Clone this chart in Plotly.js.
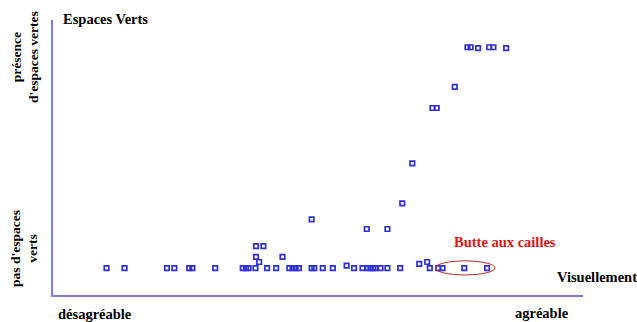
<!DOCTYPE html>
<html>
<head>
<meta charset="utf-8">
<script src="https://cdn.plot.ly/plotly-3.0.1.min.js"></script>
<style>html,body{margin:0;padding:0;background:#fff;}#chart{width:637px;height:322px;}</style>
</head>
<body>
<div id="chart"></div>
<script>
// Scores (x: désagréable 0 -> agréable 100, y: pas d'espaces verts 0 -> présence 100)
const xScore = [10.1, 13.5, 21.5, 22.9, 25.7, 26.3, 30.6, 35.8, 36.4, 36.9, 38.2, 40.4, 42.1, 44.6, 45.2, 45.8, 46.4,
  48.8, 49.3, 50.9, 52.8, 56.8, 58.4, 59.4, 59.9, 60.4, 60.8, 61.8, 63.1, 65.5, 71.1, 72.7, 73.5, 77.6, 81.9,
  55.4, 69.1, 70.6, 38.9, 38.3, 43.3, 38.3, 39.7, 48.8, 59.2, 63.1, 65.9, 67.8, 71.6, 72.4, 75.8,
  78.2, 78.8, 80.2, 82.3, 83.1, 85.5];
const yScore = [9.8, 9.8, 9.8, 9.8, 9.8, 9.8, 9.8, 9.8, 9.8, 9.8, 9.8, 9.8, 9.8, 9.8, 9.8, 9.8, 9.8,
  9.8, 9.8, 9.8, 9.8, 9.8, 9.8, 9.8, 9.8, 9.8, 9.8, 9.8, 9.8, 9.8, 9.8, 9.8, 9.8, 9.8, 9.8,
  10.7, 11.3, 12.0, 12.0, 13.9, 13.9, 17.8, 17.8, 27.5, 24.0, 24.0, 33.3, 47.9, 68.0, 68.0, 75.7,
  90.1, 90.1, 89.8, 90.1, 90.1, 89.8];
const highlight = {label: "Butte aux cailles", x: [72.1, 83.4], y: [7.3, 12.4]};
const labels = {
  title: "Espaces Verts",
  xLow: "désagréable", xHigh: "agréable", xName: "Visuellement",
  yHigh: "présence<br>d'espaces vertes", yLow: "pas d'espaces<br>verts"
};

const F = {family: "Liberation Serif, Times New Roman, serif", size: 14.5, color: "#000"};
const FY = {family: "Liberation Serif, Times New Roman, serif", size: 13.5, color: "#000"};
const axisColor = "#7f7fe3";

const trace = {
  x: xScore, y: yScore, type: "scatter", mode: "markers",
  marker: {symbol: "square-open", size: 4.5, color: "#2f2fd6", line: {width: 1.7, color: "#2f2fd6"}},
  hoverinfo: "none"
};

const layout = {
  width: 637, height: 322,
  margin: {l: 53, r: 54, t: 20, b: 27, pad: 0},
  paper_bgcolor: "#fff", plot_bgcolor: "#fff",
  showlegend: false,
  xaxis: {range: [0, 100], showline: true, linecolor: axisColor, linewidth: 2, showgrid: false,
    zeroline: false, showticklabels: false, ticks: ""},
  yaxis: {range: [0, 100], showline: true, linecolor: axisColor, linewidth: 2, showgrid: false,
    zeroline: false, showticklabels: false, ticks: ""},
  shapes: [{type: "circle", xref: "x", yref: "y",
    x0: highlight.x[0], x1: highlight.x[1], y0: highlight.y[0], y1: highlight.y[1],
    line: {color: "#c02828", width: 1}}],
  annotations: [
    {text: "<b>" + labels.title + "</b>", xref: "paper", yref: "paper", x: 0.015, y: 1.004,
      xanchor: "left", yanchor: "middle", showarrow: false, font: F},
    {text: "<b>" + highlight.label + "</b>", xref: "paper", yref: "paper", x: 0.853, y: 0.193,
      xanchor: "center", yanchor: "middle", showarrow: false, font: Object.assign({}, F, {color: "#e01414"})},
    {text: "<b>" + labels.xName + "</b>", xref: "paper", yref: "paper", x: 0.947, y: 0.065,
      xanchor: "left", yanchor: "middle", showarrow: false, font: F},
    {text: "<b>" + labels.xLow + "</b>", xref: "paper", yref: "paper", x: 0.0055, y: -0.068,
      xanchor: "left", yanchor: "middle", showarrow: false, font: F},
    {text: "<b>" + labels.xHigh + "</b>", xref: "paper", yref: "paper", x: 0.868, y: -0.066,
      xanchor: "left", yanchor: "middle", showarrow: false, font: F},
    {text: "<b>" + labels.yHigh + "</b>", xref: "paper", yref: "paper", x: -0.053, y: 0.865,
      xanchor: "center", yanchor: "middle", textangle: -90, showarrow: false, font: FY},
    {text: "<b>" + labels.yLow + "</b>", xref: "paper", yref: "paper", x: -0.053, y: 0.171,
      xanchor: "center", yanchor: "middle", textangle: -90, showarrow: false, font: FY}
  ]
};

Plotly.newPlot("chart", [trace], layout, {displayModeBar: false, staticPlot: true});
</script>
</body>
</html>
